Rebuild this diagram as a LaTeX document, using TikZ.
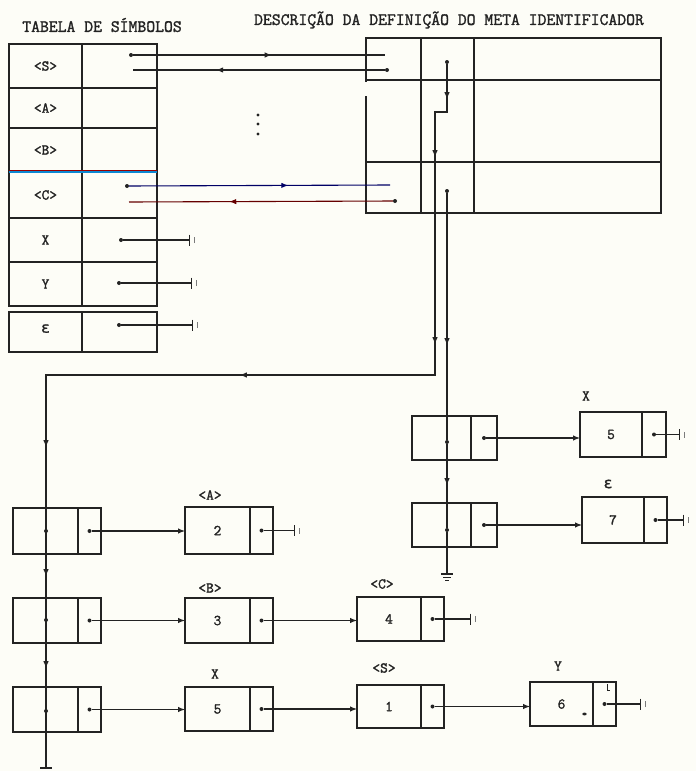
\documentclass[tikz,border=0pt]{standalone}
\usepackage{fontspec}
\newfontfamily\dvmono[FakeBold=1.2]{DejaVu Sans Mono}
\newfontfamily\twf[FakeBold=1.6]{Latin Modern Mono}
\usetikzlibrary{arrows.meta,decorations.markings,calc}
\definecolor{paper}{RGB}{253,253,247}
\definecolor{ink}{RGB}{35,35,35}
\newcommand\lblfont{\fontsize{15}{17}\selectfont\twf}
\newcommand\ttlfont{\fontsize{17.2}{19}\selectfont\twf}
\newcommand\myah{\arrow{Latex[length=7pt,width=5.5pt]}}
\tikzset{
  cell/.style={draw=ink, line width=1.2pt, rectangle, inner sep=0pt, outer sep=0pt, font=\lblfont, text=ink},
  lbl/.style={font=\lblfont, text=ink, inner sep=1pt},
  ttl/.style={font=\ttlfont, text=ink, inner sep=1pt},
  pdot/.style={circle, fill=ink, inner sep=0pt, minimum size=4pt},
  conn/.style={draw=ink, line width=1.1pt},
  tipped/.style={-{Latex[length=7pt,width=5.5pt]}},
  termtip/.style={-{Bar[width=11pt]}},
  tickst/.style={draw=ink!60, line width=0.8pt},
  midarr/.style={postaction={decorate}, decoration={markings, mark=at position #1 with {\myah}}}
}
\begin{document}
\begin{tikzpicture}[x=1pt,y=-1pt]
\fill[paper] (0,0) rectangle (696,771);
\useasboundingbox (0,0) rectangle (696,771);

% titles
\node[ttl] (t1) at (102,25) {TABELA DE SÍMBOLOS};
\node[ttl] (t2) at (449,20) {DESCRIÇÃO DA DEFINIÇÃO DO META IDENTIFICADOR};

% symbol table
\node[cell, minimum width=73pt, minimum height=44pt] (sS) at (45.5,66) {<S>};
\node[cell, minimum width=75pt, minimum height=44pt] (pS) at (119.5,66) {};
\node[cell, minimum width=73pt, minimum height=40pt] (sA) at (45.5,108) {<A>};
\node[cell, minimum width=75pt, minimum height=40pt] (pA) at (119.5,108) {};
\node[cell, minimum width=73pt, minimum height=44pt] (sB) at (45.5,150) {<B>};
\node[cell, minimum width=75pt, minimum height=44pt] (pB) at (119.5,150) {};
\node[cell, minimum width=73pt, minimum height=46pt] (sC) at (45.5,195) {<C>};
\node[cell, minimum width=75pt, minimum height=46pt] (pC) at (119.5,195) {};
\node[cell, minimum width=73pt, minimum height=44pt] (sX) at (45.5,240) {X};
\node[cell, minimum width=75pt, minimum height=44pt] (pX) at (119.5,240) {};
\node[cell, minimum width=73pt, minimum height=44pt] (sY) at (45.5,284) {Y};
\node[cell, minimum width=75pt, minimum height=44pt] (pY) at (119.5,284) {};
\node[cell, minimum width=73pt, minimum height=40pt] (sE) at (45.5,332) {\raisebox{7pt}{\dvmono ε}};
\node[cell, minimum width=75pt, minimum height=40pt] (pE) at (119.5,332) {};
\draw[cyan!70!blue, line width=1.4pt] (sC.north west) -- (pC.north east);
\draw[red!60!black, line width=0.6pt] ([yshift=1.3pt]sC.north west) -- ([yshift=1.3pt]pC.north east);

% vertical dots
\node[pdot, minimum size=3.2pt] (v1) at (258,115) {};
\node[pdot, minimum size=3.2pt] (v2) at (258,124) {};
\node[pdot, minimum size=3.2pt] (v3) at (258,134) {};

% description table
\node[cell, minimum width=55pt, minimum height=42pt] (d11) at (393.5,59) {};
\node[cell, minimum width=53pt, minimum height=42pt] (d12) at (447.5,59) {};
\node[cell, minimum width=187pt, minimum height=42pt] (d13) at (567.5,59) {};
\node[cell, minimum width=55pt, minimum height=82pt] (d21) at (393.5,121) {};
\node[cell, minimum width=53pt, minimum height=82pt] (d22) at (447.5,121) {};
\node[cell, minimum width=187pt, minimum height=82pt] (d23) at (567.5,121) {};
\node[cell, minimum width=55pt, minimum height=51pt] (d31) at (393.5,187.5) {};
\node[cell, minimum width=53pt, minimum height=51pt] (d32) at (447.5,187.5) {};
\node[cell, minimum width=187pt, minimum height=51pt] (d33) at (567.5,187.5) {};
\draw[paper, line width=3pt] (366,82) -- (366,96);

% links between tables
\node[pdot] (dS1) at (131,55) {};
\coordinate (eS1) at (385,55);
\draw[conn, midarr=0.55] (dS1) -- (eS1);
\node[pdot] (dS2) at (387,70) {};
\coordinate (eS2) at (133,70);
\draw[conn, midarr=0.67] (dS2) -- (eS2);
\node[pdot] (dC1) at (127,186) {};
\coordinate (eC1) at (390,185);
\draw[conn, draw=blue!40!black, midarr=0.61] (dC1) -- (eC1);
\node[pdot] (dC2) at (395,201) {};
\coordinate (eC2) at (129,202);
\draw[conn, draw=red!40!black, midarr=0.62] (dC2) -- (eC2);

% nil pointers in symbol table
\node[pdot] (dX) at (121,240) {};
\coordinate (tX) at (190,240);
\draw[conn, termtip] (dX) -- (tX);
\draw[tickst] ([xshift=4pt,yshift=-3pt]tX) -- ([xshift=4pt,yshift=3pt]tX);
\node[pdot] (dY) at (119,283) {};
\coordinate (tY) at (192,283);
\draw[conn, termtip] (dY) -- (tY);
\draw[tickst] ([xshift=4pt,yshift=-3pt]tY) -- ([xshift=4pt,yshift=3pt]tY);
\node[pdot] (dE) at (119,325) {};
\coordinate (tE) at (193,325);
\draw[conn, termtip] (dE) -- (tE);
\draw[tickst] ([xshift=4pt,yshift=-3pt]tE) -- ([xshift=4pt,yshift=3pt]tE);

% left column records
\node[cell, minimum width=65pt, minimum height=46pt] (L1a) at (45.5,531) {};
\node[cell, minimum width=23pt, minimum height=46pt] (L1b) at (89.5,531) {};
\node[cell, minimum width=65pt, minimum height=45pt] (L2a) at (45.5,620.5) {};
\node[cell, minimum width=23pt, minimum height=45pt] (L2b) at (89.5,620.5) {};
\node[cell, minimum width=65pt, minimum height=45pt] (L3a) at (45.5,709.5) {};
\node[cell, minimum width=23pt, minimum height=45pt] (L3b) at (89.5,709.5) {};

% right column records
\node[cell, minimum width=59pt, minimum height=44pt] (R1a) at (441.5,438) {};
\node[cell, minimum width=26pt, minimum height=44pt] (R1b) at (484,438) {};
\node[cell, minimum width=59pt, minimum height=44pt] (R2a) at (441.5,525) {};
\node[cell, minimum width=26pt, minimum height=44pt] (R2b) at (484,525) {};

% value records
\node[cell, minimum width=65pt, minimum height=47pt] (A2a) at (217.5,530.5) {2};
\node[cell, minimum width=23pt, minimum height=47pt] (A2b) at (261.5,530.5) {};
\node[lbl] (A2n) at (210,495) {<A>};
\node[cell, minimum width=65pt, minimum height=45pt] (B3a) at (217.5,620.5) {3};
\node[cell, minimum width=23pt, minimum height=45pt] (B3b) at (261.5,620.5) {};
\node[lbl] (B3n) at (210,588) {<B>};
\node[cell, minimum width=65pt, minimum height=44pt] (X5a) at (217.5,709) {5};
\node[cell, minimum width=23pt, minimum height=44pt] (X5b) at (261.5,709) {};
\node[lbl] (X5n) at (215,674) {X};
\node[cell, minimum width=64pt, minimum height=44pt] (C4a) at (389,619) {4};
\node[cell, minimum width=23pt, minimum height=44pt] (C4b) at (432.5,619) {};
\node[lbl] (C4n) at (382,584) {<C>};
\node[cell, minimum width=64pt, minimum height=43pt] (S1a) at (389,706.5) {1};
\node[cell, minimum width=23pt, minimum height=43pt] (S1b) at (432.5,706.5) {};
\node[lbl] (S1n) at (384,668) {<S>};
\node[cell, minimum width=63pt, minimum height=44pt] (Y6a) at (561.5,704) {6};
\node[cell, minimum width=23pt, minimum height=44pt] (Y6b) at (604.5,704) {};
\node[lbl] (Y6n) at (558,666) {Y};
\node[cell, minimum width=62pt, minimum height=45pt] (Xra) at (611,434.5) {5};
\node[cell, minimum width=24pt, minimum height=45pt] (Xrb) at (654,434.5) {};
\node[lbl] (Xrn) at (586,396) {X};
\node[cell, minimum width=62pt, minimum height=46pt] (E7a) at (613,520) {7};
\node[cell, minimum width=23pt, minimum height=46pt] (E7b) at (655.5,520) {};
\node[lbl] (E7n) at (608,484) {\dvmono ε};
\draw[conn, line width=0.8pt] (607,684) -- (607,690) -- (610,690);
\fill[ink] (584.5,714) ellipse (2.2pt and 1.4pt);

% long path from description table to left column
\node[pdot] (dT1) at (447,62) {};
\coordinate (gL) at (46,768);
\draw[conn, postaction={decorate}, decoration={markings,
   mark=at position 35pt with {\myah},
   mark=at position 105pt with {\myah},
   mark=at position 292pt with {\myah},
   mark=at position 518pt with {\myah},
   mark=at position 784pt with {\myah},
   mark=at position 913pt with {\myah},
   mark=at position 1005pt with {\myah}}]
   (dT1) -- (447,112) -- (435,112) -- (435,375) -- (46,375) -- (gL);
\draw[conn] ([xshift=-6pt]gL) -- ([xshift=6pt]gL);

% path from description table to right column
\node[pdot] (dT2) at (447,191) {};
\node[pdot] (cR1) at (447,442) {};
\node[pdot] (cR2) at (447,530) {};
\coordinate (gR) at (447,574);
\draw[conn, midarr=152pt] (dT2) -- (cR1);
\draw[conn, midarr=41pt] (cR1) -- (cR2);
\draw[conn] (cR2) -- (gR);
\draw[conn] ([xshift=-6pt]gR) -- ([xshift=6pt]gR);
\draw[conn, line width=0.8pt] ([xshift=-4pt,yshift=-3pt]gR) -- ([xshift=4pt,yshift=-3pt]gR);
\draw[conn, line width=0.7pt] ([xshift=-2pt,yshift=-6pt]gR) -- ([xshift=2pt,yshift=-6pt]gR);

% dots on left column
\node[pdot] (cL1) at (46,531) {};
\node[pdot] (cL2) at (46,620) {};
\node[pdot] (cL3) at (46,711) {};

% pointer dots
\node[pdot] (pL1) at (L1b) {};
\node[pdot] (pL2) at (L2b) {};
\node[pdot] (pL3) at (L3b) {};
\node[pdot] (pR1) at (R1b) {};
\node[pdot] (pR2) at (R2b) {};
\node[pdot] (pA2) at (A2b) {};
\node[pdot] (pB3) at (B3b) {};
\node[pdot] (pX5) at (X5b) {};
\node[pdot] (pC4) at (C4b) {};
\node[pdot] (pS1) at (S1b) {};
\node[pdot] (pY6) at (Y6b) {};
\node[pdot] (pXr) at (Xrb) {};
\node[pdot] (pE7) at (E7b) {};

% record links
\draw[conn, tipped] (pL1) -- (pL1 -| A2a.west);
\draw[conn, tipped] (pL2) -- (pL2 -| B3a.west);
\draw[conn, tipped] (pL3) -- (pL3 -| X5a.west);
\draw[conn, tipped] (pB3) -- (pB3 -| C4a.west);
\draw[conn, tipped] (pX5) -- (pX5 -| S1a.west);
\draw[conn, tipped] (pS1) -- (pS1 -| Y6a.west);
\draw[conn, tipped] (pR1) -- (pR1 -| Xra.west);
\draw[conn, tipped] (pR2) -- (pR2 -| E7a.west);

% nil ends
\coordinate (tA2) at (295,530.5);
\coordinate (tC4) at (471,619);
\coordinate (tY6) at (641,704);
\coordinate (tXr) at (680,434.5);
\coordinate (tE7) at (684,520);
\draw[conn, termtip] (pA2) -- (tA2);
\draw[conn, termtip] (pC4) -- (tC4);
\draw[conn, termtip] (pY6) -- (tY6);
\draw[conn, termtip] (pXr) -- (tXr);
\draw[conn, termtip] (pE7) -- (tE7);
\draw[tickst] ([xshift=4pt,yshift=-3pt]tA2) -- ([xshift=4pt,yshift=3pt]tA2);
\draw[tickst] ([xshift=4pt,yshift=-3pt]tC4) -- ([xshift=4pt,yshift=3pt]tC4);
\draw[tickst] ([xshift=4pt,yshift=-3pt]tY6) -- ([xshift=4pt,yshift=3pt]tY6);
\draw[tickst] ([xshift=4pt,yshift=-3pt]tXr) -- ([xshift=4pt,yshift=3pt]tXr);
\draw[tickst] ([xshift=4pt,yshift=-3pt]tE7) -- ([xshift=4pt,yshift=3pt]tE7);
\end{tikzpicture}
\end{document}
